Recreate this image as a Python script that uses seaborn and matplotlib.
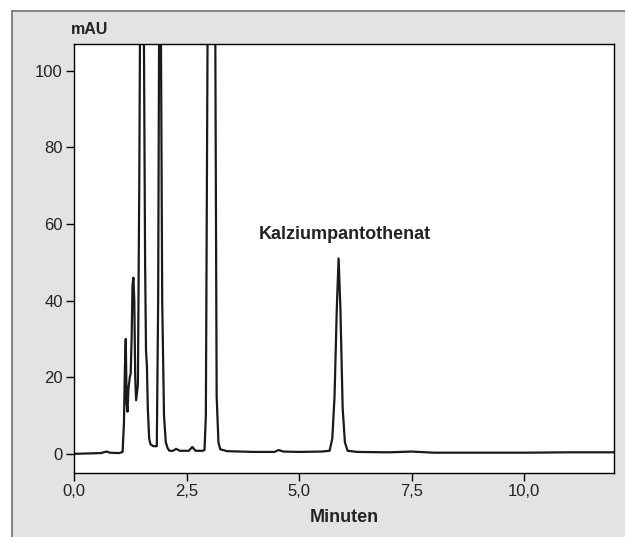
import matplotlib

matplotlib.use("Agg")
import matplotlib.pyplot as plt
import seaborn as sns
from matplotlib.patches import Rectangle

# chromatogram trace (minutes, mAU); 140 = off-scale peak
time_min = [
    0.00, 0.30, 0.60, 0.72, 0.80, 1.00, 1.08, 1.11, 1.13, 1.15,
    1.17, 1.19, 1.21, 1.24, 1.26, 1.28, 1.30, 1.32, 1.34, 1.36,
    1.38, 1.42, 1.45, 1.48, 1.54, 1.58, 1.60, 1.62, 1.64, 1.67,
    1.70, 1.76, 1.81, 1.84, 1.87, 1.90, 1.92, 1.96, 2.00, 2.04,
    2.08, 2.12, 2.20, 2.27, 2.35, 2.55, 2.63, 2.70, 2.86, 2.90,
    2.93, 2.98, 3.13, 3.17, 3.21, 3.25, 3.40, 4.00, 4.45, 4.55,
    4.65, 5.00, 5.50, 5.68, 5.74, 5.79, 5.84, 5.88, 5.92, 5.97,
    6.02, 6.08, 6.30, 7.00, 7.50, 8.00, 9.00, 10.00, 11.00, 12.00,
]
signal_mau = [
    0.0, 0.1, 0.2, 0.6, 0.3, 0.2, 0.5, 8.0, 22.0, 30.0,
    13.0, 11.0, 17.0, 20.0, 21.0, 30.0, 44.0, 46.0, 40.0, 20.0,
    14.0, 18.0, 70.0, 140.0, 140.0, 50.0, 27.0, 23.0, 12.0, 4.0,
    2.5, 2.0, 2.0, 2.0, 40.0, 140.0, 140.0, 40.0, 10.0, 3.0,
    1.5, 0.8, 0.8, 1.3, 0.8, 0.8, 1.8, 0.8, 0.8, 1.0,
    10.0, 140.0, 140.0, 15.0, 3.0, 1.2, 0.7, 0.5, 0.5, 1.0,
    0.6, 0.5, 0.6, 0.8, 4.0, 15.0, 38.0, 51.0, 38.0, 12.0,
    3.0, 0.8, 0.5, 0.4, 0.6, 0.3, 0.3, 0.3, 0.4, 0.4,
]

x_ticks = [0.0, 2.5, 5.0, 7.5, 10.0]
x_tick_labels = ["0,0", "2,5", "5,0", "7,5", "10,0"]
y_ticks = [0, 20, 40, 60, 80, 100]

peak_label = "Kalziumpantothenat"
peak_label_pos = (6.01, 57.3)

sns.set_theme(style="white")
plt.rcParams["font.family"] = ["Liberation Sans", "DejaVu Sans"]

fig = plt.figure(figsize=(6.25, 5.37), dpi=100, facecolor="white")
fig.add_artist(Rectangle((12 / 625, -0.1), 1.0, (537 - 11) / 537 + 0.1,
                         transform=fig.transFigure, facecolor="#e3e3e3",
                         edgecolor="#7a7a7a", linewidth=1.3, zorder=-5))
ax = fig.add_axes([74 / 625, 64 / 537, 540 / 625, 429 / 537])
ax.set_facecolor("white")

sns.lineplot(x=time_min, y=signal_mau, sort=False, estimator=None,
             color="#1a1a1a", linewidth=1.6, ax=ax)

ax.set_xlim(0, 12)
ax.set_ylim(-5, 107)
ax.set_xticks(x_ticks)
ax.set_xticklabels(x_tick_labels)
ax.set_yticks(y_ticks)
for spine in ax.spines.values():
    spine.set_color("black")
    spine.set_linewidth(1.0)
ax.tick_params(axis="both", direction="out", length=6, width=1.0,
               color="black", labelsize=12, labelcolor="#222222", pad=2,
               left=True, bottom=True)

ax.set_xlabel("Minuten", fontsize=13, fontweight="bold", color="#222222", labelpad=7)
ax.set_ylabel("")
fig.text(90 / 625, 1 - 29 / 537, "mAU", fontsize=11.5, fontweight="bold",
         color="#222222", ha="center", va="center")
ax.text(*peak_label_pos, peak_label, fontsize=13, fontweight="bold",
        color="#222222", ha="center", va="center")

fig.savefig("out.png", dpi=100, facecolor=fig.get_facecolor())
